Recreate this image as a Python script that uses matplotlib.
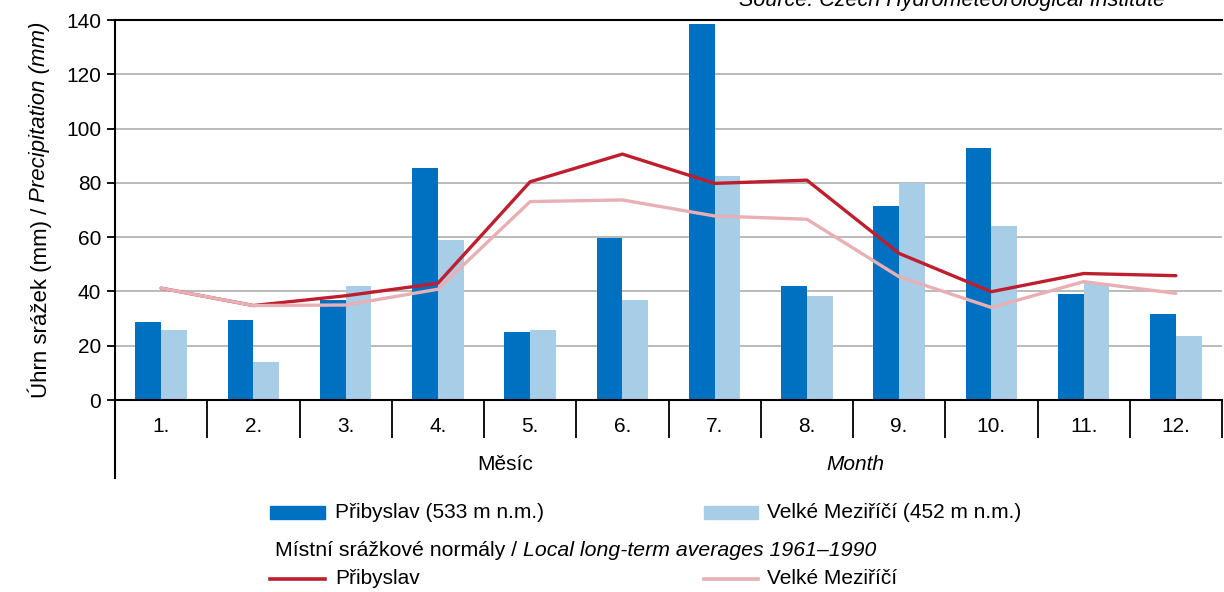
import numpy as np
import matplotlib
matplotlib.use("Agg")
import matplotlib.pyplot as plt
from matplotlib.lines import Line2D
from matplotlib.patches import Rectangle

plt.rcParams['font.family'] = ['Liberation Sans', 'DejaVu Sans']

# data
months = ['1.', '2.', '3.', '4.', '5.', '6.', '7.', '8.', '9.', '10.', '11.', '12.']
pribyslav = [28.7, 29.5, 37.0, 85.5, 25.0, 59.8, 138.5, 42.0, 71.5, 93.0, 39.0, 31.7]
velke_mezirici = [25.8, 14.0, 42.0, 59.0, 25.8, 36.8, 82.5, 38.3, 79.8, 64.1, 43.0, 23.6]
pribyslav_norm = [41.2, 34.8, 38.4, 43.0, 80.4, 90.6, 79.8, 81.0, 54.0, 39.9, 46.6, 45.8]
velke_norm = [41.2, 34.8, 35.0, 40.8, 73.1, 73.7, 67.8, 66.6, 45.4, 34.1, 43.6, 39.3]

c_dark = '#0070C0'
c_light = '#A7CDE7'
c_red = '#BE1E2D'
c_pink = '#E8AFB4'
fs = 15
W, H = 1224, 592

fig = plt.figure(figsize=(W/100, H/100), dpi=100)
ax = fig.add_axes([115/W, 1 - 400/H, 1107/W, 380/H])
renderer = fig.canvas.get_renderer()

x = np.arange(len(months))
w = 0.28
ax.bar(x - w/2, pribyslav, w, color=c_dark, zorder=2)
ax.bar(x + w/2, velke_mezirici, w, color=c_light, zorder=2)
ax.plot(x, pribyslav_norm, color=c_red, lw=2.4, zorder=3, solid_capstyle='round')
ax.plot(x, velke_norm, color=c_pink, lw=2.4, zorder=3, solid_capstyle='round')

ax.set_xlim(-0.5, 11.5)
ax.set_ylim(0, 140)
ax.set_yticks(range(0, 141, 20))
ax.yaxis.grid(True, color='#b4b4b4', lw=1.3, zorder=0)
ax.set_axisbelow(True)
ax.tick_params(axis='y', labelsize=fs, length=6, width=1.3, direction='out', pad=4)

# category separators below the axis
ax.set_xticks(np.arange(-0.5, 11.6, 1))
ax.set_xticklabels([])
ax.tick_params(axis='x', which='major', length=27, width=1.3, direction='out')
ax.set_xticks(x, minor=True)
ax.set_xticklabels(months, minor=True)
ax.tick_params(axis='x', which='minor', length=0, labelsize=fs, pad=12)

for s in ['left', 'bottom', 'top']:
    ax.spines[s].set_linewidth(1.5)
ax.spines['right'].set_visible(False)
ax.add_line(Line2D([0, 0], [0, -78/380], transform=ax.transAxes, color='black',
                   lw=1.5, clip_on=False))

fig.text(505/W, 1 - 465/H, 'Měsíc', fontsize=fs, ha='center', va='center')
fig.text(855/W, 1 - 465/H, 'Month', fontsize=fs, ha='center', va='center', style='italic')


def mixed_text(parts, x_px, y_px, size, vertical=False):
    # parts placed one after another, each with its own style
    space = 0.278 * size * 100 / 72
    pos = x_px if not vertical else y_px
    for txt, style in parts:
        if vertical:
            t = fig.text(x_px/W, 1 - pos/H, txt, fontsize=size, style=style,
                         rotation=90, ha='center', va='bottom')
            pos -= t.get_window_extent(renderer).height + space
        else:
            t = fig.text(pos/W, 1 - y_px/H, txt, fontsize=size, style=style,
                         ha='left', va='center')
            pos += t.get_window_extent(renderer).width + space


mixed_text([('Úhrn srážek (mm) /', 'normal'), ('Precipitation (mm)', 'italic')],
           40, 398, 16, vertical=True)

fig.text(1165/W, 1 - 6/H, 'Source: Czech Hydrometeorological Institute',
         fontsize=15.5, style='italic', ha='right', va='baseline')


# legend drawn by hand
def fy(py):
    return 1 - py/H


fig.patches.append(Rectangle((270/W, fy(519)), 55/W, 13/H, color=c_dark,
                             transform=fig.transFigure))
fig.text(335/W, fy(513), 'Přibyslav (533 m n.m.)', fontsize=fs, va='center')
fig.patches.append(Rectangle((704/W, fy(519)), 54/W, 13/H, color=c_light,
                             transform=fig.transFigure))
fig.text(767/W, fy(513), 'Velké Meziříčí (452 m n.m.)', fontsize=fs, va='center')
mixed_text([('Místní srážkové normály /', 'normal'),
            ('Local long-term averages 1961–1990', 'italic')], 275, 550, 15.3)
fig.lines.append(Line2D([270/W, 325/W], [fy(579), fy(579)], color=c_red, lw=2.6,
                        transform=fig.transFigure))
fig.text(335/W, fy(579), 'Přibyslav', fontsize=fs, va='center')
fig.lines.append(Line2D([704/W, 758/W], [fy(579), fy(579)], color=c_pink, lw=2.6,
                        transform=fig.transFigure))
fig.text(767/W, fy(579), 'Velké Meziříčí', fontsize=fs, va='center')

fig.savefig('out.png', dpi=100)
